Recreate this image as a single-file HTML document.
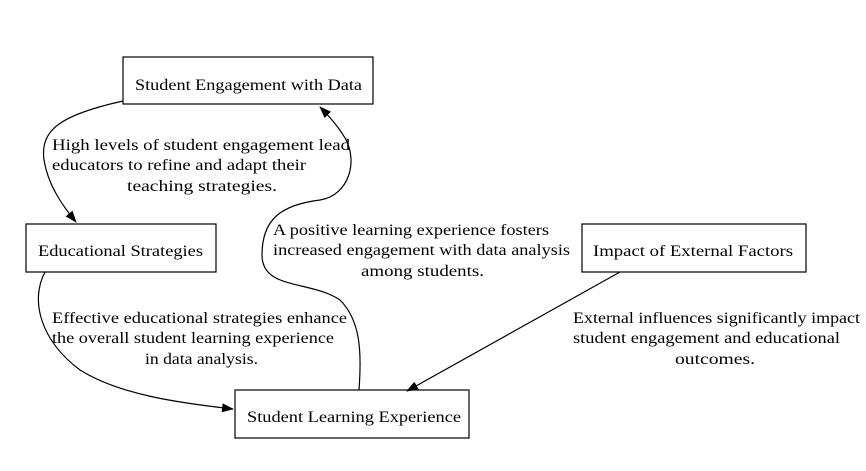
<!DOCTYPE html>
<html><head><style>
body{margin:0;background:#fff;}
svg text{font-family:"Liberation Serif","Times New Roman",serif;font-size:16px;fill:#000;}
</style></head><body>
<svg width="866" height="466" viewBox="0 0 866 466" xmlns="http://www.w3.org/2000/svg" font-family="Liberation Serif, serif">
<defs><marker id="a" markerWidth="12" markerHeight="9" refX="11" refY="4.5" orient="auto" markerUnits="userSpaceOnUse"><path d="M0,0 L12,4.5 L0,9 z" fill="#000"/></marker></defs>
<g fill="none" stroke="#000" stroke-width="1.2">
<rect x="123" y="57" width="250" height="47"/>
<rect x="26" y="224" width="190" height="48"/>
<rect x="582" y="224" width="224" height="48"/>
<rect x="235" y="390" width="234" height="48"/>
<path d="M123,101 C60,115 40,130 44,160 C48,185 62,205 76,222" marker-end="url(#a)"/>
<path d="M45,272 C30,300 40,340 80,370 C120,395 180,403 233,409" marker-end="url(#a)"/>
<path d="M359,390 C362,350 360,320 340,300 C310,280 262,290 262,255 C262,220 280,205 320,200 C350,195 358,160 345,138 C338,126 330,117 320,107" marker-end="url(#a)"/>
<path d="M620,272 L407,391" marker-end="url(#a)"/>
</g>
<g>
<text x="135" y="90" textLength="227" lengthAdjust="spacingAndGlyphs">Student Engagement with Data</text>
<text x="38" y="256" textLength="165" lengthAdjust="spacingAndGlyphs">Educational Strategies</text>
<text x="593" y="256" textLength="200" lengthAdjust="spacingAndGlyphs">Impact of External Factors</text>
<text x="247" y="422" textLength="214" lengthAdjust="spacingAndGlyphs">Student Learning Experience</text>
<text x="52" y="150" textLength="298" lengthAdjust="spacingAndGlyphs">High levels of student engagement lead</text>
<text x="52" y="170" textLength="254" lengthAdjust="spacingAndGlyphs">educators to refine and adapt their</text>
<text x="127" y="191" textLength="150" lengthAdjust="spacingAndGlyphs">teaching strategies.</text>
<text x="52" y="323" textLength="295" lengthAdjust="spacingAndGlyphs">Effective educational strategies enhance</text>
<text x="52" y="343" textLength="282" lengthAdjust="spacingAndGlyphs">the overall student learning experience</text>
<text x="145" y="364" textLength="113" lengthAdjust="spacingAndGlyphs">in data analysis.</text>
<text x="273" y="235" textLength="276" lengthAdjust="spacingAndGlyphs">A positive learning experience fosters</text>
<text x="273" y="255" textLength="297" lengthAdjust="spacingAndGlyphs">increased engagement with data analysis</text>
<text x="361" y="276" textLength="123" lengthAdjust="spacingAndGlyphs">among students.</text>
<text x="573" y="323" textLength="287" lengthAdjust="spacingAndGlyphs">External influences significantly impact</text>
<text x="573" y="343" textLength="267" lengthAdjust="spacingAndGlyphs">student engagement and educational</text>
<text x="675" y="364" textLength="80" lengthAdjust="spacingAndGlyphs">outcomes.</text>
</g>
</svg>
</body></html>
